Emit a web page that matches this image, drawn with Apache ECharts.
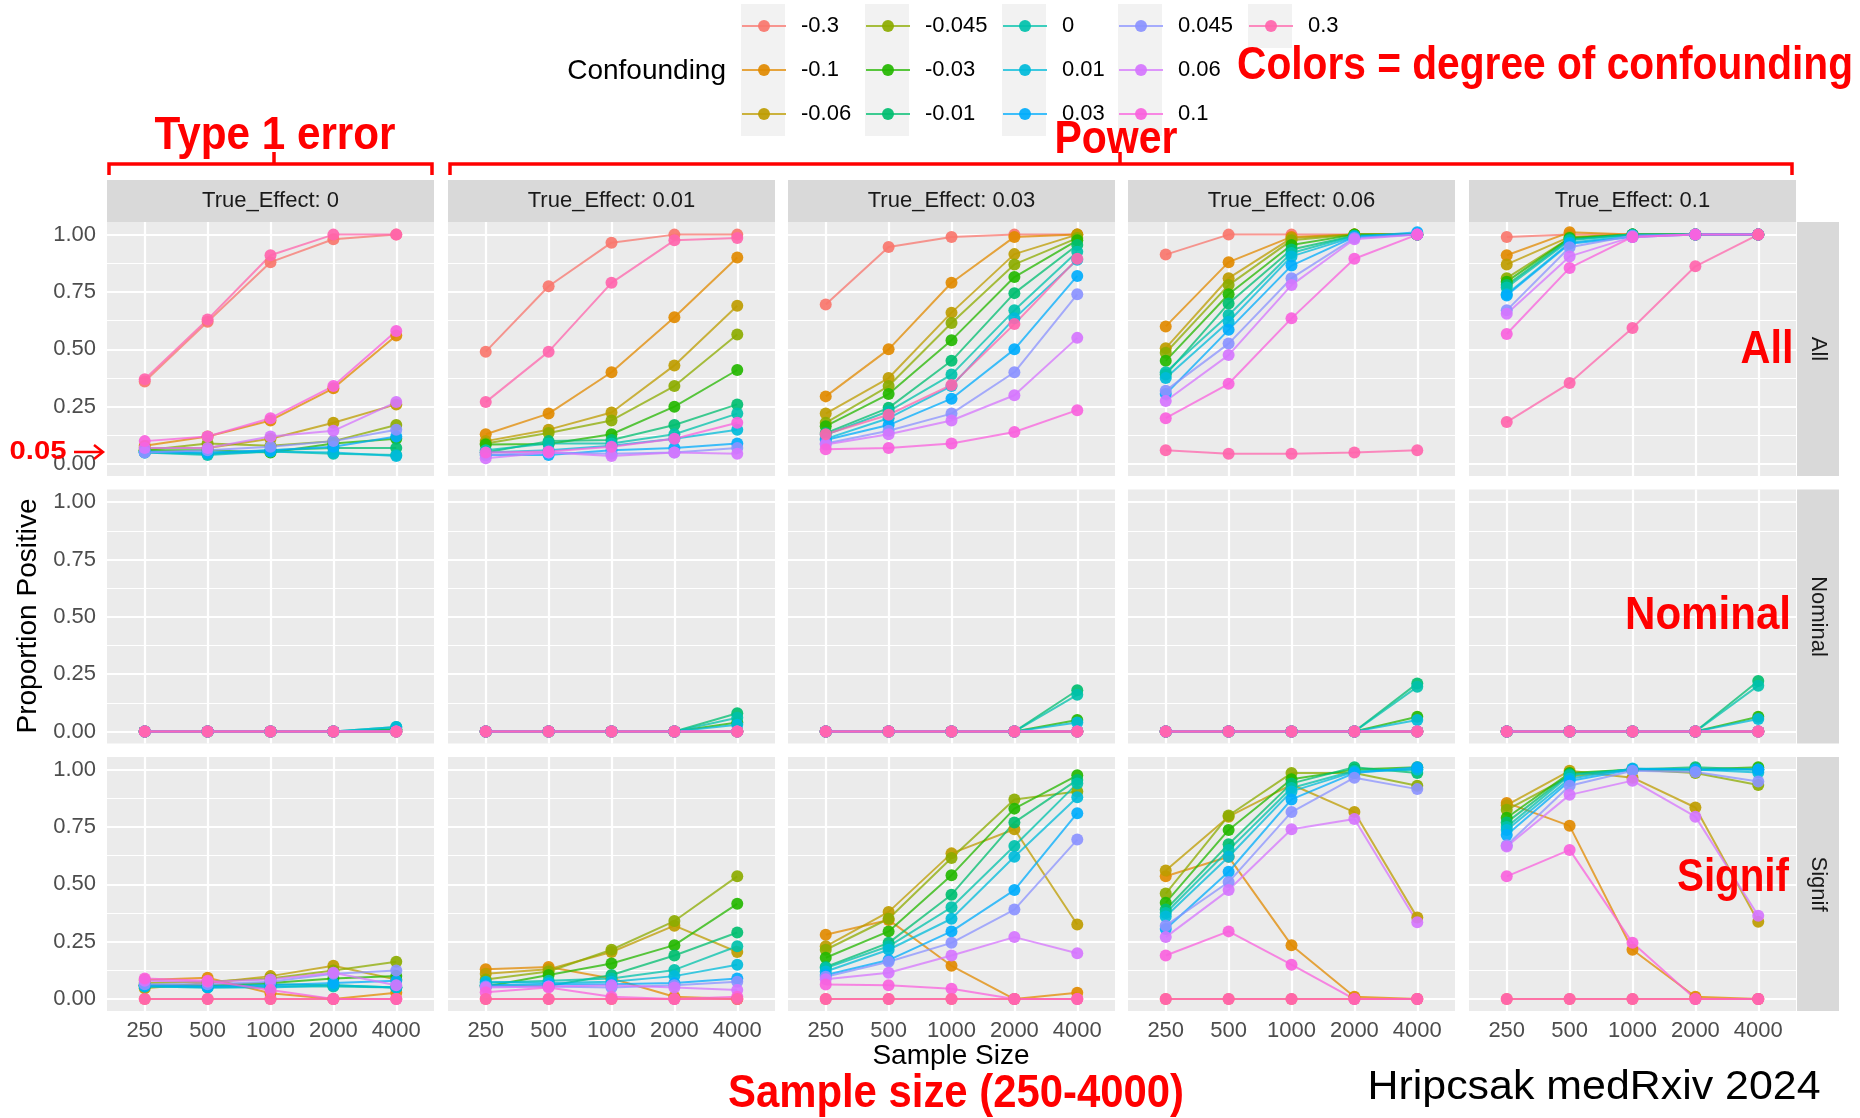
<!DOCTYPE html>
<html><head><meta charset="utf-8">
<script src="https://cdn.jsdelivr.net/npm/echarts@6/dist/echarts.min.js"></script>
<style>html,body{margin:0;padding:0;background:#fff}#c{width:1860px;height:1118px}</style>
</head><body><div id="c"></div><script>
const sampleSizes = ['250','500','1000','2000','4000'];
const confounding = ['-0.3','-0.1','-0.06','-0.045','-0.03','-0.01','0','0.01','0.03','0.045','0.06','0.1','0.3'];
const trueEffects = ['0','0.01','0.03','0.06','0.1'];
const outcomeRows = ['All','Nominal','Signif'];
const yTickLabels = ['0.00','0.25','0.50','0.75','1.00'];

// rows of each array: one per confounding level (-0.3 ... 0.3), values at 250..4000
const all_te0 = [
 [0.36,0.62,0.88,0.98,1.00],[0.08,0.12,0.19,0.33,0.56],[0.07,0.07,0.11,0.18,0.26],[0.06,0.09,0.08,0.10,0.17],
 [0.06,0.06,0.05,0.09,0.11],[0.055,0.045,0.06,0.07,0.07],[0.05,0.04,0.055,0.045,0.04],[0.05,0.045,0.055,0.05,0.035],
 [0.055,0.05,0.06,0.075,0.12],[0.05,0.06,0.075,0.10,0.15],[0.07,0.07,0.12,0.145,0.27],[0.10,0.12,0.20,0.34,0.58],
 [0.37,0.63,0.91,1.00,1.00]];
const all_te001 = [
 [0.49,0.775,0.965,1.00,1.00],[0.13,0.22,0.40,0.64,0.90],[0.10,0.15,0.225,0.43,0.69],[0.09,0.135,0.19,0.34,0.565],
 [0.085,0.087,0.13,0.25,0.41],[0.05,0.10,0.105,0.17,0.26],[0.06,0.09,0.09,0.13,0.22],[0.05,0.06,0.08,0.11,0.15],
 [0.04,0.04,0.06,0.07,0.09],[0.04,0.05,0.045,0.05,0.07],[0.025,0.05,0.035,0.05,0.045],[0.05,0.055,0.075,0.11,0.18],
 [0.27,0.49,0.79,0.975,0.985]];
const all_te003 = [
 [0.695,0.946,0.99,1.00,1.00],[0.295,0.50,0.79,0.99,1.00],[0.22,0.375,0.66,0.915,1.00],[0.18,0.34,0.615,0.87,0.985],
 [0.165,0.305,0.54,0.815,0.975],[0.135,0.245,0.45,0.745,0.955],[0.128,0.23,0.39,0.67,0.925],[0.11,0.20,0.34,0.635,0.89],
 [0.105,0.17,0.285,0.50,0.82],[0.09,0.145,0.22,0.40,0.74],[0.085,0.13,0.19,0.30,0.55],[0.065,0.07,0.09,0.14,0.235],
 [0.13,0.215,0.345,0.61,0.895]];
const all_te006 = [
 [0.913,1.00,1.00,1.00,1.00],[0.60,0.88,0.99,1.00,1.00],[0.505,0.81,0.985,1.00,1.00],[0.485,0.78,0.975,1.00,1.00],
 [0.45,0.74,0.955,1.00,1.00],[0.39,0.70,0.935,0.995,1.00],[0.40,0.65,0.92,0.995,1.00],[0.375,0.62,0.905,0.99,1.00],
 [0.305,0.585,0.865,0.99,1.01],[0.32,0.525,0.81,0.985,1.00],[0.275,0.475,0.78,0.98,1.00],[0.20,0.35,0.635,0.895,1.00],
 [0.06,0.045,0.045,0.05,0.06]];
const all_te01 = [
 [0.99,1.00,1.00,1.00,1.00],[0.91,1.01,1.00,1.00,1.00],[0.87,0.99,1.00,1.00,1.00],[0.81,0.985,1.00,1.00,1.00],
 [0.795,0.985,1.00,1.00,1.00],[0.78,0.98,1.00,1.00,1.00],[0.77,0.975,1.00,1.00,1.00],[0.74,0.965,0.995,1.00,1.00],
 [0.735,0.96,0.99,1.00,1.00],[0.67,0.945,0.995,1.00,1.00],[0.655,0.905,0.99,1.00,1.00],[0.567,0.855,0.99,1.00,1.00],
 [0.183,0.353,0.593,0.862,1.00]];

const nom_te0 = [
 [0,0,0,0,0],[0,0,0,0,0],[0,0,0,0,0],[0,0,0,0,0],[0,0,0,0,0.01],[0,0,0,0,0.01],[0,0,0,0,0.02],[0,0,0,0,0.02],
 [0,0,0,0,0],[0,0,0,0,0],[0,0,0,0,0],[0,0,0,0,0],[0,0,0,0,0]];
const nom_te001 = [
 [0,0,0,0,0],[0,0,0,0,0],[0,0,0,0,0],[0,0,0,0,0],[0,0,0,0,0.04],[0,0,0,0,0.08],[0,0,0,0,0.06],[0,0,0,0,0.03],
 [0,0,0,0,0],[0,0,0,0,0],[0,0,0,0,0],[0,0,0,0,0],[0,0,0,0,0]];
const nom_te003 = [
 [0,0,0,0,0],[0,0,0,0,0],[0,0,0,0,0],[0,0,0,0,0],[0,0,0,0,0.05],[0,0,0,0,0.18],[0,0,0,0,0.16],[0,0,0,0,0.04],
 [0,0,0,0,0],[0,0,0,0,0],[0,0,0,0,0],[0,0,0,0,0],[0,0,0,0,0]];
const nom_te006 = [
 [0,0,0,0,0],[0,0,0,0,0],[0,0,0,0,0],[0,0,0,0,0],[0,0,0,0,0.065],[0,0,0,0,0.21],[0,0,0,0,0.195],[0,0,0,0,0.05],
 [0,0,0,0,0],[0,0,0,0,0],[0,0,0,0,0],[0,0,0,0,0],[0,0,0,0,0]];
const nom_te01 = [
 [0,0,0,0,0],[0,0,0,0,0],[0,0,0,0,0],[0,0,0,0,0],[0,0,0,0,0.065],[0,0,0,0,0.22],[0,0,0,0,0.20],[0,0,0,0,0.055],
 [0,0,0,0,0],[0,0,0,0,0],[0,0,0,0,0],[0,0,0,0,0],[0,0,0,0,0]];

const sig_te0 = [
 [0,0,0,0,0],[0.083,0.093,0.025,0,0.028],[0.047,0.07,0.10,0.145,0.085],[0.07,0.075,0.09,0.125,0.163],
 [0.06,0.06,0.07,0.09,0.10],[0.06,0.055,0.065,0.06,0.05],[0.055,0.05,0.055,0.055,0.05],[0.055,0.05,0.05,0.06,0.05],
 [0.06,0.055,0.06,0.07,0.08],[0.065,0.065,0.075,0.11,0.125],[0.08,0.075,0.085,0.115,0.06],[0.09,0.08,0.04,0,0],
 [0,0,0,0,0]];
const sig_te001 = [
 [0,0,0,0,0],[0.13,0.14,0.09,0.01,0],[0.11,0.13,0.205,0.32,0.205],[0.085,0.12,0.215,0.34,0.535],
 [0.055,0.105,0.155,0.235,0.415],[0.06,0.057,0.105,0.19,0.29],[0.07,0.08,0.09,0.127,0.23],[0.075,0.07,0.075,0.10,0.15],
 [0.06,0.065,0.065,0.07,0.09],[0.055,0.055,0.05,0.06,0.075],[0.05,0.055,0.06,0.05,0.04],[0.03,0.05,0.01,0,0.01],
 [0,0,0,0,0]];
const sig_te003 = [
 [0,0,0,0,0],[0.28,0.345,0.145,0,0.028],[0.23,0.38,0.635,0.74,0.325],[0.215,0.35,0.615,0.87,0.905],
 [0.18,0.295,0.54,0.83,0.975],[0.14,0.245,0.455,0.77,0.955],[0.135,0.23,0.40,0.667,0.94],[0.12,0.215,0.35,0.62,0.88],
 [0.105,0.17,0.295,0.475,0.81],[0.097,0.163,0.245,0.39,0.695],[0.086,0.115,0.19,0.27,0.20],[0.064,0.06,0.045,0,0],
 [0,0,0,0,0]];
const sig_te006 = [
 [0,0,0,0,0],[0.535,0.62,0.235,0.01,0],[0.56,0.795,0.935,0.815,0.355],[0.46,0.80,0.985,0.985,0.93],
 [0.42,0.737,0.958,1.00,1.01],[0.39,0.675,0.94,1.01,0.985],[0.375,0.65,0.92,0.995,1.00],[0.36,0.62,0.905,0.99,1.00],
 [0.305,0.555,0.87,0.985,1.01],[0.32,0.51,0.815,0.965,0.915],[0.27,0.475,0.74,0.785,0.335],[0.19,0.295,0.15,0,0],
 [0,0,0,0,0]];
const sig_te01 = [
 [0,0,0,0,0],[0.855,0.755,0.215,0.01,0],[0.845,0.995,0.965,0.835,0.337],[0.825,0.97,1.00,0.985,0.933],
 [0.79,0.985,1.00,1.00,1.01],[0.77,0.98,1.00,1.01,1.00],[0.75,0.975,1.00,1.00,1.00],[0.737,0.96,1.005,1.00,0.987],
 [0.715,0.95,1.00,1.00,1.00],[0.67,0.93,0.995,0.99,0.948],[0.665,0.89,0.952,0.795,0.363],[0.535,0.65,0.245,0,0],
 [0,0,0,0,0]];

const panelData = [
  [all_te0, all_te001, all_te003, all_te006, all_te01],
  [nom_te0, nom_te001, nom_te003, nom_te006, nom_te01],
  [sig_te0, sig_te001, sig_te003, sig_te006, sig_te01]
];

const palette = ['#F8766D','#E18A00','#BE9C00','#8CAB00','#24B700','#00BE70','#00C1AB','#00BBDA','#00ACFC','#8B93FF','#D575FE','#F962DD','#FF65AC'];
const FONT = "'Liberation Sans', Arial, Helvetica, sans-serif";
const AFONT = "'Liberation Sans Narrow', 'Liberation Sans', Arial, sans-serif";
const PL = [107, 448, 788, 1128, 1469], PT = [222, 489.5, 757], PW = 327, PH = 254;
const YMIN = -0.052, YMAX = 1.055;

const grid = [], xAxis = [], yAxis = [], series = [];
for (let r = 0; r < 3; r++) {
  for (let c = 0; c < 5; c++) {
    const g = r * 5 + c;
    grid.push({left: PL[c], top: PT[r], width: PW, height: PH, show: true, backgroundColor: '#EBEBEB',
      borderWidth: 0, containLabel: false, outerBoundsMode: 'none'});
    xAxis.push({type: 'value', gridIndex: g, min: -0.6, max: 4.6, minInterval: 1, maxInterval: 1, splitNumber: 5,
      position: 'bottom',
      axisLine: {show: false, onZero: false},
      axisTick: {show: false},
      axisLabel: {show: r === 2, customValues: [0,1,2,3,4], margin: 9, fontSize: 22, color: '#4D4D4D', fontFamily: FONT,
        formatter: v => { const k = Math.round(v); return (Math.abs(v - k) < 1e-6 && k >= 0 && k < 5) ? sampleSizes[k] : ''; }},
      splitLine: {show: true, showMinLine: false, showMaxLine: false, lineStyle: {color: '#FFFFFF', width: 2.2}}});
    yAxis.push({type: 'value', gridIndex: g, min: YMIN, max: YMAX, minInterval: 0.25, maxInterval: 0.25, position: 'left',
      axisLine: {show: false, onZero: false},
      axisTick: {show: false},
      axisLabel: {show: c === 0, customValues: [0,0.25,0.5,0.75,1], margin: 11, fontSize: 22, color: '#4D4D4D', fontFamily: FONT,
        formatter: v => { const k = Math.round(v / 0.25); return (Math.abs(v - k * 0.25) < 1e-6 && k >= 0 && k <= 4) ? yTickLabels[k] : ''; }},
      splitLine: {show: true, showMinLine: false, showMaxLine: false, lineStyle: {color: '#FFFFFF', width: 2.2}}});
    yAxis.push({type: 'value', gridIndex: g, min: YMIN, max: YMAX, minInterval: 0.125, maxInterval: 0.125, position: 'right',
      axisLine: {show: false, onZero: false}, axisTick: {show: false}, axisLabel: {show: false},
      splitLine: {show: true, showMinLine: false, showMaxLine: false, lineStyle: {color: '#FFFFFF', width: 1.1}}});
    panelData[r][c].forEach((vals, s) => {
      series.push({type: 'line', name: confounding[s], xAxisIndex: g, yAxisIndex: 2 * g,
        data: vals.map((v, i) => [i, v]), symbol: 'circle', symbolSize: 12, showSymbol: true,
        lineStyle: {color: palette[s], width: 2, opacity: 0.75},
        itemStyle: {color: palette[s], opacity: 0.92},
        emphasis: {disabled: true}, silent: true, animation: false, clip: false});
    });
  }
}

const legendCols = [[0,1,2],[3,4,5],[6,7,8],[9,10,11],[12]];
const KEYX = [741, 865, 1002, 1118, 1248];
const legend = legendCols.map((ids, k) => ({
  data: ids.map(i => confounding[i]), orient: 'vertical', left: KEYX[k], top: 15, padding: 0,
  itemWidth: 44, itemHeight: 15, itemGap: 22, selectedMode: false,
  textStyle: {fontSize: 22, color: '#000000', fontFamily: FONT, lineHeight: 22, padding: [0, 0, 0, 10]}
}));

const ctx = document.createElement('canvas').getContext('2d');
function fitScale(text, font, w) { ctx.font = font; return w / ctx.measureText(text).width; }
function annot(text, cx, cy, w, size, bold, color) {
  const font = (bold ? 'bold ' : '') + size + 'px ' + AFONT;
  return {type: 'text', x: cx, y: cy, z: 100, scaleX: fitScale(text, font, w), silent: true,
    style: {text: text, font: font, fill: color, align: 'center', verticalAlign: 'middle'}};
}

const elements = [];
KEYX.forEach((x, k) => elements.push({type: 'rect', z: 0, silent: true,
  shape: {x: x, y: 4, width: 44, height: legendCols[k].length * 44}, style: {fill: '#F2F2F2'}}));
elements.push({type: 'text', x: 726, y: 71, silent: true,
  style: {text: 'Confounding', fontSize: 28, fontFamily: FONT, fill: '#000000', align: 'right', verticalAlign: 'middle'}});
trueEffects.forEach((te, c) => {
  elements.push({type: 'rect', silent: true, shape: {x: PL[c], y: 180, width: PW, height: 42}, style: {fill: '#D9D9D9'}});
  elements.push({type: 'text', x: PL[c] + PW / 2, y: 201, silent: true,
    style: {text: 'True_Effect: ' + te, fontSize: 22, fontFamily: FONT, fill: '#1A1A1A', align: 'center', verticalAlign: 'middle'}});
});
outcomeRows.forEach((lab, r) => {
  elements.push({type: 'rect', silent: true, shape: {x: 1797, y: PT[r], width: 42, height: PH}, style: {fill: '#D9D9D9'}});
  elements.push({type: 'text', x: 1818, y: PT[r] + PH / 2, rotation: -Math.PI / 2, silent: true,
    style: {text: lab, fontSize: 22, fontFamily: FONT, fill: '#1A1A1A', align: 'center', verticalAlign: 'middle'}});
});
elements.push({type: 'text', x: 951, y: 1056, silent: true,
  style: {text: 'Sample Size', fontSize: 28, fontFamily: FONT, fill: '#000000', align: 'center', verticalAlign: 'middle'}});
elements.push({type: 'text', x: 28, y: 616, rotation: Math.PI / 2, silent: true,
  style: {text: 'Proportion Positive', fontSize: 28, fontFamily: FONT, fill: '#000000', align: 'center', verticalAlign: 'middle'}});

// red annotations
const RED = '#FF0000';
elements.push({type: 'polyline', z: 100, silent: true, shape: {points: [[109,175],[109,164],[432,164],[432,175]]}, style: {stroke: RED, lineWidth: 3.5, fill: null}});
elements.push({type: 'line', z: 100, silent: true, shape: {x1: 274, y1: 164, x2: 274, y2: 152}, style: {stroke: RED, lineWidth: 3.5}});
elements.push({type: 'polyline', z: 100, silent: true, shape: {points: [[450,175],[450,164],[1792,164],[1792,175]]}, style: {stroke: RED, lineWidth: 3.5, fill: null}});
elements.push({type: 'line', z: 100, silent: true, shape: {x1: 1120, y1: 164, x2: 1120, y2: 152}, style: {stroke: RED, lineWidth: 3.5}});
elements.push(annot('Type 1 error', 275, 136, 241, 46, true, RED));
elements.push(annot('Power', 1116, 140, 123, 46, true, RED));
elements.push(annot('Colors = degree of confounding', 1545, 66, 616, 46, true, RED));
elements.push(annot('All', 1767, 350, 53, 46, true, RED));
elements.push(annot('Nominal', 1708, 616, 166, 46, true, RED));
elements.push(annot('Signif', 1733, 878, 112, 46, true, RED));
elements.push(annot('0.05', 38, 452, 57, 26, true, RED));
elements.push({type: 'line', z: 100, silent: true, shape: {x1: 74, y1: 452, x2: 102, y2: 452}, style: {stroke: RED, lineWidth: 2.5}});
elements.push({type: 'polyline', z: 100, silent: true, shape: {points: [[94,445],[103,452],[94,459]]}, style: {stroke: RED, lineWidth: 2.5, fill: null}});
elements.push(annot('Sample size (250-4000)', 956, 1094, 456, 46, true, RED));
elements.push(annot('Hripcsak medRxiv 2024', 1594, 1088, 453, 40, false, '#000000'));

const chart = echarts.init(document.getElementById('c'), null, {renderer: 'canvas'});
chart.setOption({
  animation: false, backgroundColor: '#FFFFFF',
  grid, xAxis, yAxis, series, legend,
  graphic: {elements}
});
</script></body></html>
